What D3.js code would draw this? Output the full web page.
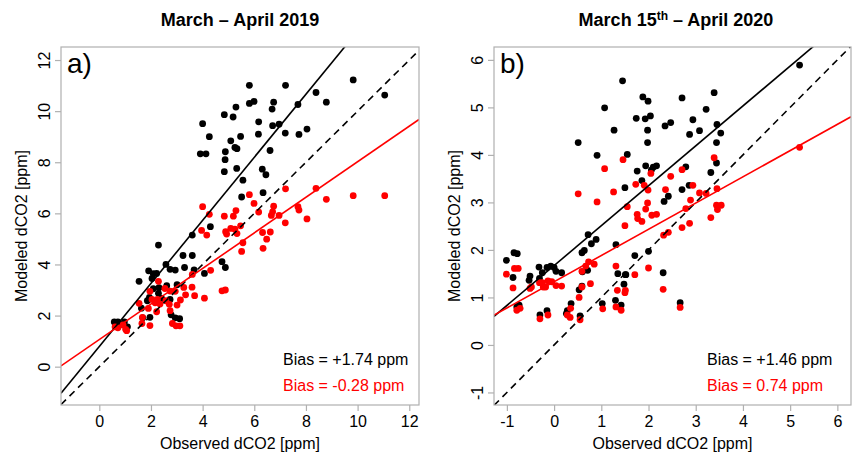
<!DOCTYPE html>
<html>
<head>
<meta charset="utf-8">
<script src="https://cdnjs.cloudflare.com/ajax/libs/d3/7.8.5/d3.min.js"></script>
<style>
  body { margin: 0; background: #fff; }
  svg { display: block; font-family: "Liberation Sans", Arial, Helvetica, sans-serif; }
</style>
</head>
<body>
<div id="chart"></div>
<script>
// ---- data: [observed, modeled] in ppm ----
const black2019 = [[5.81,11.01],[7.21,11.01],[8.39,10.73],[8.79,10.35],[5.81,10.30],[5.99,10.38],[6.75,10.35],[5.29,10.16],[7.69,10.26],[6.69,10.08],[4.84,9.86],[5.18,9.77],[6.17,9.58],[6.71,9.43],[6.96,9.49],[4.00,9.51],[6.16,9.10],[7.20,9.14],[7.73,9.09],[8.04,9.30],[4.26,9.00],[5.47,9.01],[5.09,8.84],[5.25,8.58],[5.33,8.53],[4.88,8.41],[6.61,8.46],[3.91,8.33],[4.13,8.33],[4.87,8.10],[6.31,7.73],[6.45,7.51],[4.84,7.63],[5.32,7.76],[5.56,7.30],[5.51,6.64],[6.34,6.81],[4.30,5.48],[3.60,5.15],[2.29,4.76],[3.24,4.35],[3.60,4.35],[2.58,4.00],[2.74,3.81],[2.94,3.78],[3.30,3.88],[3.67,3.79],[4.07,3.65],[4.75,4.11],[4.88,3.88],[1.91,3.75],[2.09,3.64],[2.22,3.65],[1.54,3.34],[2.04,3.45],[2.61,3.17],[2.31,3.09],[3.01,3.21],[2.09,3.05],[1.94,2.71],[1.86,2.58],[2.74,2.63],[1.63,2.29],[2.78,2.03],[2.94,1.91],[3.11,1.88],[1.68,1.91],[1.96,1.93],[0.58,1.75],[0.72,1.75],[0.97,1.75],[1.09,1.56],[2.41,2.67],[2.29,2.87],[9.83,11.22],[11.05,10.63]];
const red2019 = [[7.21,6.96],[8.39,6.98],[8.79,6.55],[5.81,6.73],[5.99,6.39],[4.00,6.26],[4.26,5.96],[4.84,5.89],[5.29,6.11],[5.19,5.89],[6.17,6.05],[6.75,6.28],[6.71,6.06],[6.66,5.92],[6.96,5.92],[7.69,6.26],[7.73,6.13],[8.04,5.78],[7.20,5.63],[5.47,5.51],[5.09,5.41],[4.89,5.28],[4.93,5.19],[5.25,5.38],[5.33,5.21],[3.96,5.33],[4.16,5.15],[6.32,5.25],[6.62,5.27],[6.48,4.99],[5.56,4.85],[5.51,4.51],[6.34,4.63],[4.31,3.77],[3.60,3.61],[4.75,2.97],[4.88,3.00],[2.29,3.34],[2.74,2.96],[2.94,2.95],[3.27,3.10],[3.59,3.11],[3.34,2.81],[3.69,2.78],[4.07,2.68],[1.96,2.95],[2.04,2.63],[2.25,2.63],[2.16,2.50],[2.35,2.45],[2.58,2.58],[2.71,2.44],[1.54,2.48],[1.90,2.28],[3.01,2.41],[2.74,2.19],[1.67,1.93],[1.65,1.69],[1.96,1.61],[2.83,1.69],[2.97,1.60],[3.12,1.60],[0.61,1.56],[0.72,1.52],[0.92,1.63],[1.02,1.46],[1.06,1.41],[2.22,2.15],[2.54,3.06],[3.14,2.61],[9.83,6.69],[11.05,6.69]];

const black2020 = [[1.45,5.56],[1.88,5.22],[1.99,5.13],[2.71,5.20],[3.39,5.31],[3.22,4.96],[1.07,4.99],[1.74,4.77],[1.93,4.76],[2.04,4.82],[2.94,4.74],[2.35,4.61],[2.47,4.68],[1.98,4.52],[1.27,4.52],[2.87,4.43],[3.08,4.51],[3.45,4.64],[3.53,4.46],[1.98,4.26],[3.44,4.26],[0.51,4.26],[0.91,3.99],[1.55,4.01],[3.44,3.83],[1.94,3.77],[2.10,3.74],[2.17,3.77],[2.79,3.75],[1.76,3.66],[2.06,3.68],[3.32,3.63],[1.86,3.46],[1.50,3.31],[2.71,3.27],[2.86,3.36],[2.42,3.13],[2.33,3.02],[0.72,2.32],[0.79,2.13],[0.89,2.22],[0.59,1.94],[0.64,1.99],[1.31,2.11],[2.00,1.97],[1.71,1.88],[2.31,1.52],[1.35,1.50],[1.51,1.48],[1.48,1.28],[0.53,1.16],[0.59,1.24],[0.60,1.54],[0.71,1.57],[-1.01,1.78],[-0.85,1.94],[-0.78,1.92],[-0.87,1.42],[-0.51,1.45],[-0.53,1.36],[-0.32,1.64],[-0.25,1.52],[-0.15,1.63],[-0.07,1.66],[0.00,1.63],[0.04,1.55],[0.16,1.52],[-0.31,1.40],[-0.74,0.84],[-0.79,0.80],[-0.30,0.63],[-0.15,0.72],[0.28,0.72],[0.36,0.87],[0.55,0.61],[1.02,0.87],[1.30,0.94],[1.42,0.84],[2.67,0.89],[5.20,5.89],[0.26,0.66],[1.52,1.48]];
const red2020 = [[1.46,3.90],[1.07,3.71],[3.39,3.94],[2.71,3.69],[2.05,3.61],[2.47,3.55],[0.51,3.18],[0.91,3.01],[1.26,3.22],[1.73,3.38],[1.91,3.36],[1.99,3.26],[2.36,3.27],[2.94,3.36],[3.08,3.20],[3.22,3.19],[3.45,3.29],[1.55,2.91],[1.98,2.99],[1.94,2.86],[1.76,2.75],[1.77,2.66],[1.86,2.60],[2.07,2.73],[2.17,2.75],[2.79,2.87],[2.89,3.05],[3.46,2.85],[3.54,2.94],[3.44,2.94],[3.32,2.68],[1.50,2.51],[2.87,2.56],[2.71,2.47],[2.42,2.37],[2.32,2.31],[0.73,1.75],[0.85,1.70],[0.67,1.66],[0.59,1.55],[0.77,1.29],[0.59,1.22],[0.53,1.00],[1.31,1.66],[2.00,1.62],[1.71,1.48],[1.34,1.15],[1.51,1.15],[1.50,1.10],[2.31,1.17],[2.67,0.79],[1.03,0.76],[1.31,0.80],[1.42,0.73],[0.35,0.77],[0.28,0.63],[0.34,0.58],[0.55,0.53],[-0.13,0.63],[-0.30,0.55],[-0.79,0.73],[-0.72,0.77],[-1.01,1.49],[-0.87,1.20],[-0.84,1.61],[-0.76,1.61],[-0.51,1.19],[-0.48,1.22],[-0.31,1.31],[-0.23,1.22],[-0.13,1.35],[-0.05,1.33],[0.04,1.25],[0.16,1.24],[-0.25,1.31],[-0.18,1.22],[5.20,4.16]];

// fitted lines [intercept, slope]
const fitBlack2019 = [0.79, 1.234];
const fitRed2019 = [1.06, 0.696];
const fitBlack2020 = [1.67, 0.84];
const fitRed2020 = [1.33, 0.552];

const ticks2019 = [0, 2, 4, 6, 8, 10, 12];
const ticks2020 = [-1, 0, 1, 2, 3, 4, 5, 6];
const biasLabels2019 = ["Bias = +1.74 ppm", "Bias = -0.28 ppm"];
const biasLabels2020 = ["Bias = +1.46 ppm", "Bias = 0.74 ppm"];

const W = 852, H = 452;
const plotTop = 47, plotBottom = 405;

const panels = [
  { key: "a", label: "a)", left: 61, right: 419,
    xDomain: [-1.483, 12.377], yDomain: [-1.5, 12.51], ticks: ticks2019,
    black: black2019, red: red2019, fitB: fitBlack2019, fitR: fitRed2019,
    bias: biasLabels2019, biasX: 283 },
  { key: "b", label: "b)", left: 494, right: 851,
    xDomain: [-1.273, 6.289], yDomain: [-1.264, 6.271], ticks: ticks2020,
    black: black2020, red: red2020, fitB: fitBlack2020, fitR: fitRed2020,
    bias: biasLabels2020, biasX: 707 }
];

const svg = d3.select("#chart").append("svg")
  .attr("width", W).attr("height", H);

panels.forEach(function(p) {
  const x = d3.scaleLinear().domain(p.xDomain).range([p.left, p.right]);
  const y = d3.scaleLinear().domain(p.yDomain).range([plotBottom, plotTop]);
  const g = svg.append("g");

  g.append("clipPath").attr("id", "clip-" + p.key)
    .append("rect")
    .attr("x", p.left).attr("y", plotTop)
    .attr("width", p.right - p.left).attr("height", plotBottom - plotTop);

  const plot = g.append("g").attr("clip-path", "url(#clip-" + p.key + ")");

  // points: black first, red on top
  plot.selectAll(".pb").data(p.black).enter().append("circle")
    .attr("cx", d => x(d[0])).attr("cy", d => y(d[1]))
    .attr("r", 3.4).attr("fill", "#000");
  plot.selectAll(".pr").data(p.red).enter().append("circle")
    .attr("cx", d => x(d[0])).attr("cy", d => y(d[1]))
    .attr("r", 3.4).attr("fill", "#ff0000");

  // 1:1 line and the two fits
  const x0 = p.xDomain[0], x1 = p.xDomain[1];
  const line = d3.line().x(d => x(d[0])).y(d => y(d[1]));
  plot.append("path")
    .attr("d", line([[x0, x0], [x1, x1]]))
    .attr("stroke", "#000").attr("stroke-width", 1.6)
    .attr("stroke-dasharray", "7,5").attr("fill", "none");
  plot.append("path")
    .attr("d", line([[x0, p.fitB[0] + p.fitB[1] * x0], [x1, p.fitB[0] + p.fitB[1] * x1]]))
    .attr("stroke", "#000").attr("stroke-width", 1.6).attr("fill", "none");
  plot.append("path")
    .attr("d", line([[x0, p.fitR[0] + p.fitR[1] * x0], [x1, p.fitR[0] + p.fitR[1] * x1]]))
    .attr("stroke", "#ff0000").attr("stroke-width", 1.6).attr("fill", "none");

  // box
  g.append("rect")
    .attr("x", p.left).attr("y", plotTop)
    .attr("width", p.right - p.left).attr("height", plotBottom - plotTop)
    .attr("fill", "none").attr("stroke", "#b0b0b0").attr("stroke-width", 1.2);

  // axes (plain hyphen for negatives, like the original)
  const fmt = d => String(d);
  const xAxis = g.append("g")
    .attr("transform", "translate(0," + plotBottom + ")")
    .call(d3.axisBottom(x).tickValues(p.ticks).tickSize(6).tickFormat(fmt));
  xAxis.select(".domain").remove();
  xAxis.selectAll("line").attr("stroke", "#b0b0b0").attr("stroke-width", 1.2);
  xAxis.selectAll("text")
    .attr("y", 21.5).attr("dy", 0)
    .attr("font-size", 16).attr("fill", "#000");
  xAxis.attr("font-family", null).attr("font-size", null);

  const yAxis = g.append("g")
    .attr("transform", "translate(" + p.left + ",0)")
    .call(d3.axisLeft(y).tickValues(p.ticks).tickSize(6).tickFormat(fmt));
  yAxis.select(".domain").remove();
  yAxis.selectAll("line").attr("stroke", "#b0b0b0").attr("stroke-width", 1.2);
  yAxis.selectAll("text")
    .attr("transform", "rotate(-90)")
    .attr("x", 0).attr("y", -11).attr("dy", 0)
    .attr("text-anchor", "middle")
    .attr("font-size", 16).attr("fill", "#000");
  yAxis.attr("font-family", null).attr("font-size", null);

  // axis titles
  const cx = (p.left + p.right) / 2;
  const cy = (plotTop + plotBottom) / 2;
  g.append("text")
    .attr("x", cx).attr("y", 448.5)
    .attr("text-anchor", "middle").attr("font-size", 16)
    .text("Observed dCO2 [ppm]");
  g.append("text")
    .attr("transform", "translate(" + (p.left - 34) + "," + cy + ") rotate(-90)")
    .attr("text-anchor", "middle").attr("font-size", 16)
    .text("Modeled dCO2 [ppm]");

  // panel letter
  g.append("text")
    .attr("x", p.left + 6).attr("y", 73)
    .attr("font-size", 28)
    .text(p.label);

  // bias text
  g.append("text")
    .attr("x", p.biasX).attr("y", 364.5)
    .attr("font-size", 16).attr("fill", "#000")
    .text(p.bias[0]);
  g.append("text")
    .attr("x", p.biasX).attr("y", 390.5)
    .attr("font-size", 16).attr("fill", "#ff0000")
    .text(p.bias[1]);
});

// titles
svg.append("text")
  .attr("x", 240).attr("y", 26)
  .attr("text-anchor", "middle").attr("font-size", 18).attr("font-weight", "bold")
  .text("March \u2013 April 2019");

const t2 = svg.append("text")
  .attr("x", 676).attr("y", 26)
  .attr("text-anchor", "middle").attr("font-size", 18).attr("font-weight", "bold");
t2.append("tspan").text("March 15");
t2.append("tspan").attr("font-size", 12).attr("dy", -6).text("th");
t2.append("tspan").attr("dy", 6).text(" \u2013 April 2020");
</script>
</body>
</html>
